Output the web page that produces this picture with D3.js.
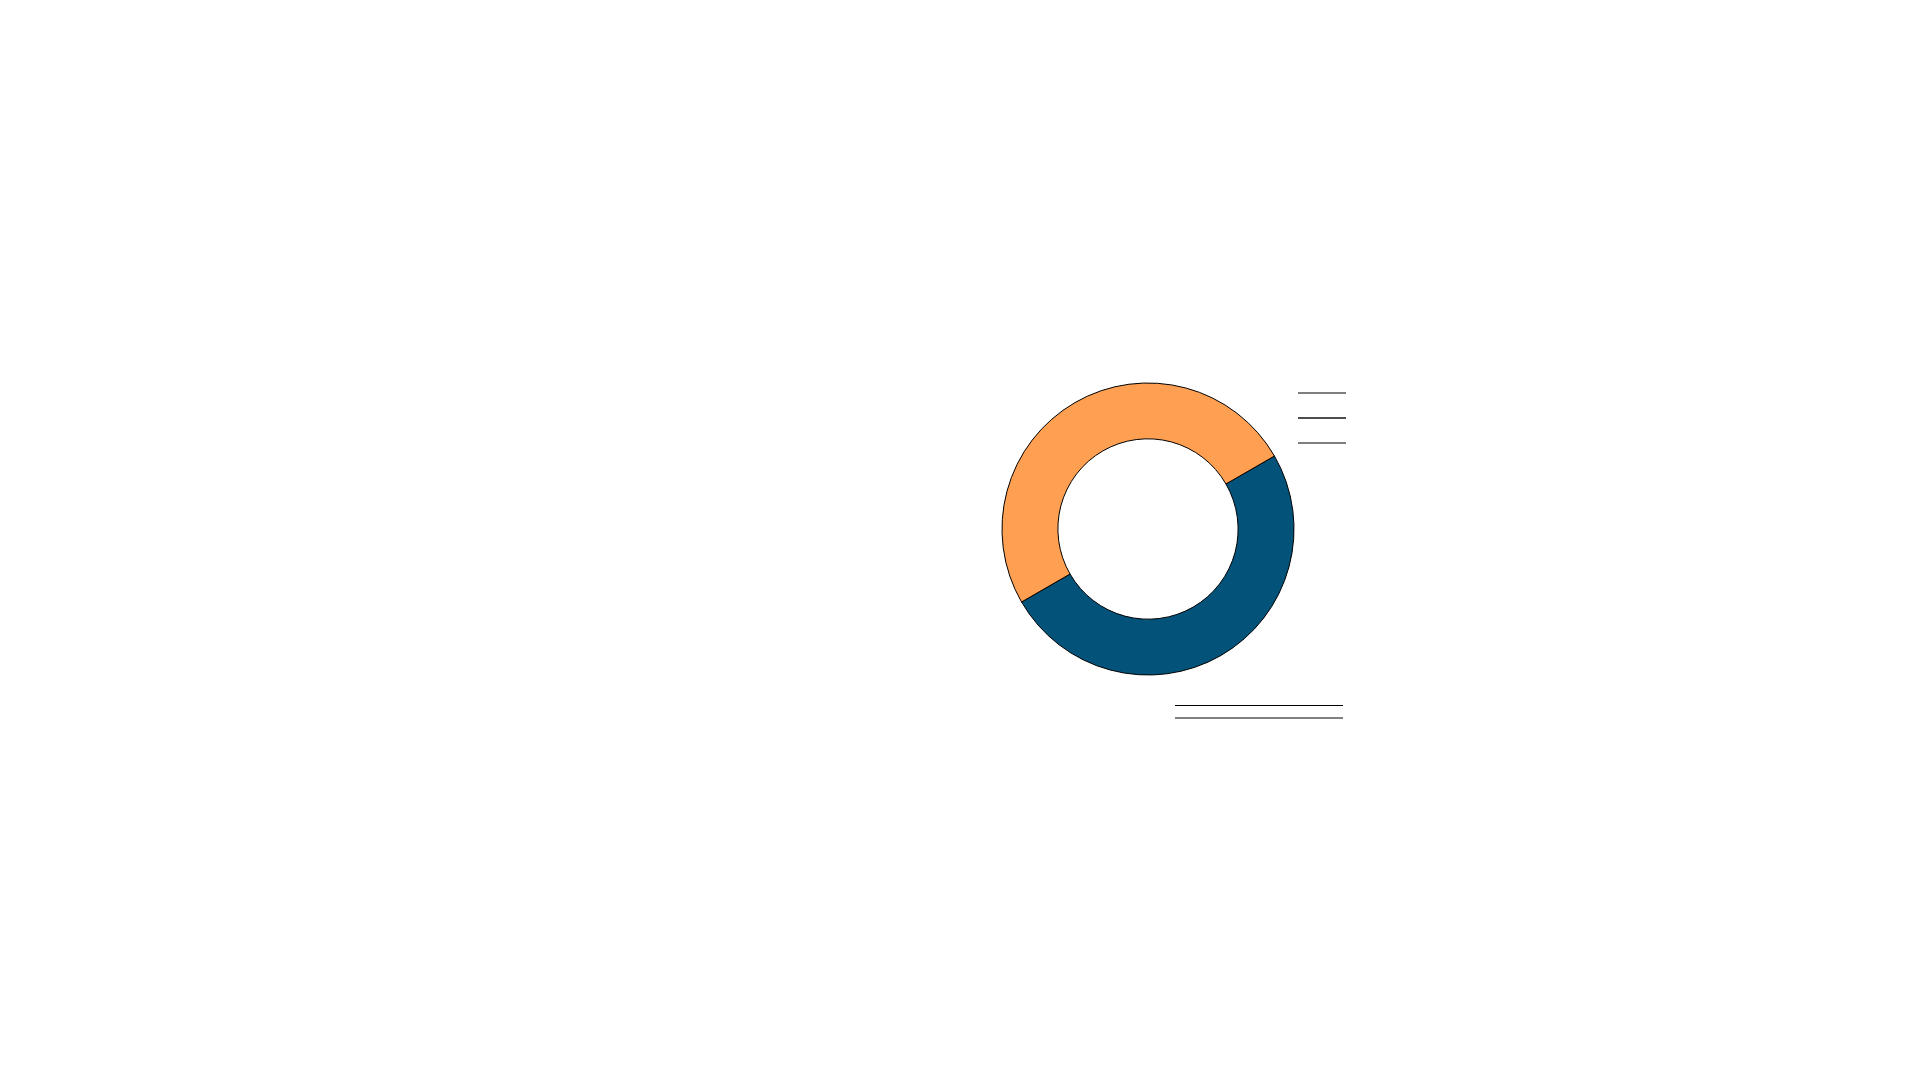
<!DOCTYPE html>
<html>
<head>
<meta charset="utf-8">
<script src="https://cdn.jsdelivr.net/npm/d3@7"></script>
<style>
  html, body { margin: 0; padding: 0; background: #fff; }
  svg { display: block; }
</style>
</head>
<body>
<div id="chart"></div>
<script>
// data
var categories = ["A", "B"];
var values = [50, 50];
var colors = ["#02527a", "#ff9f51"];

// legend rules (no text shown in the reference)
var legendRows = [0, 1, 2];
var legendColors = ["#7f7f7f", "#4d4d4d", "#7f7f7f"];
var footRows = [0, 1];
var footColors = ["#000000", "#808080"];

var svgWidth = 1920;
var svgHeight = 1080;

var svg = d3.select("#chart")
    .append("svg")
    .attr("width", svgWidth)
    .attr("height", svgHeight);

var cx = 1148, cy = 529;
var outerR = 146, innerR = 90;

var pie = d3.pie()
    .sort(null)
    .value(d => d)
    .startAngle(Math.PI / 3)
    .endAngle(Math.PI / 3 + 2 * Math.PI);

var arc = d3.arc()
    .innerRadius(innerR)
    .outerRadius(outerR);

var donut = svg.append("g")
    .attr("transform", `translate(${cx}, ${cy})`);

donut.selectAll("path")
    .data(pie(values))
    .enter()
    .append("path")
    .attr("d", arc)
    .attr("fill", (d, i) => colors[i])
    .attr("stroke", "#000")
    .attr("stroke-width", 1);

// legend lines to the right
var legendY = d3.scalePoint()
    .domain(legendRows)
    .range([393, 443]);

svg.append("g").selectAll("line")
    .data(legendRows)
    .enter()
    .append("line")
    .attr("x1", 1298)
    .attr("x2", 1346)
    .attr("y1", d => legendY(d))
    .attr("y2", d => legendY(d))
    .attr("stroke", (d, i) => legendColors[i])
    .attr("stroke-width", 2);

// lines below
var footY = d3.scalePoint()
    .domain(footRows)
    .range([705.5, 718]);

svg.append("g").selectAll("line")
    .data(footRows)
    .enter()
    .append("line")
    .attr("x1", 1175)
    .attr("x2", 1343)
    .attr("y1", d => footY(d))
    .attr("y2", d => footY(d))
    .attr("stroke", (d, i) => footColors[i])
    .attr("stroke-width", (d, i) => i === 0 ? 1 : 2);
</script>
</body>
</html>
